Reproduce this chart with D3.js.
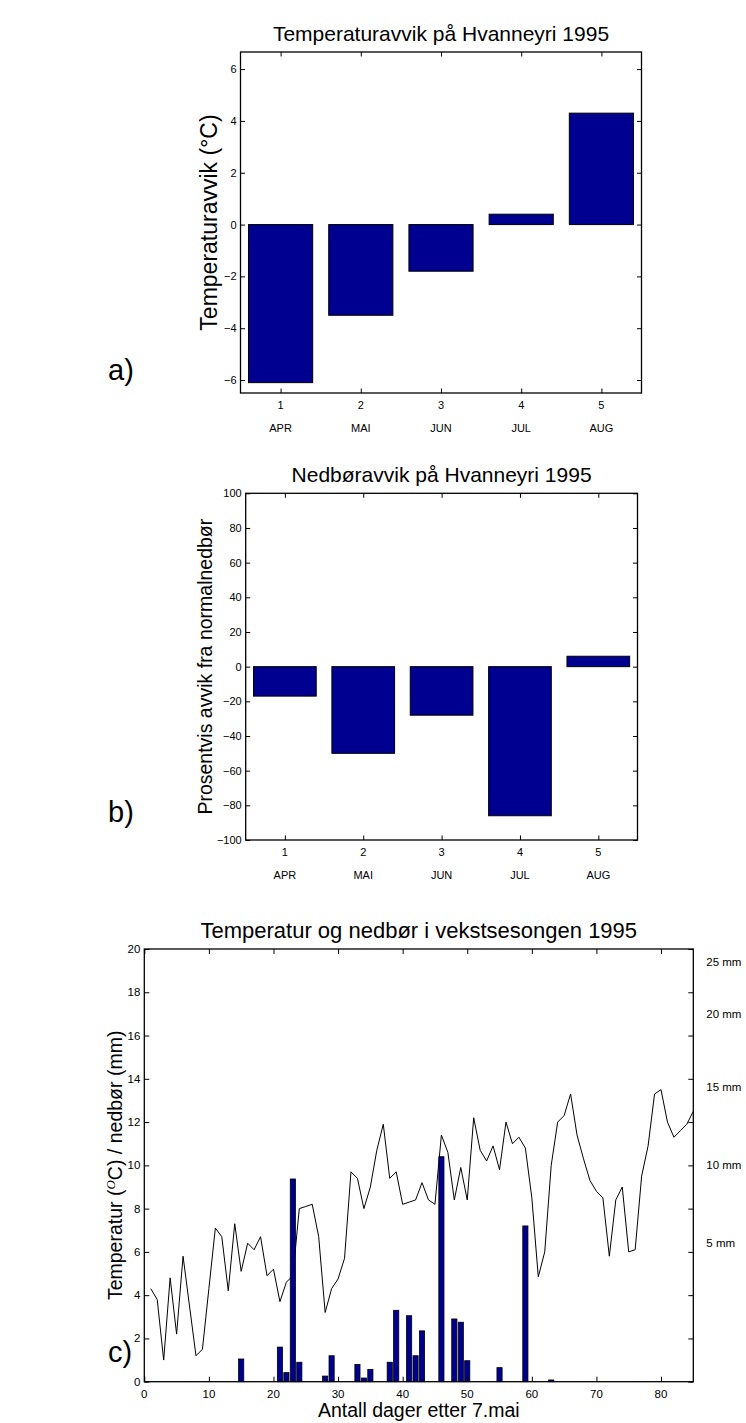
<!DOCTYPE html>
<html>
<head>
<meta charset="utf-8">
<script src="https://cdn.jsdelivr.net/npm/d3@7"></script>
<style>
  body { margin: 0; background: #fff; }
  svg text { font-family: "Liberation Sans", Arial, sans-serif; fill: #000; }
</style>
</head>
<body>
<div id="chart"></div>
<script>
// ---- data ----
const monthNo = [1, 2, 3, 4, 5]
const months = ['APR', 'MAI', 'JUN', 'JUL', 'AUG']
const tempDev = [-6.1, -3.5, -1.8, 0.4, 4.3]        // °C
const precipDev = [-17, -50, -28, -86, 6]           // %

// daily mean temperature, day 1..85 after 7 May
const dailyTemp = [
  4.3, 3.8, 1.0, 4.8, 2.2, 5.8, 3.5, 1.2, 1.5, 4.3,
  7.1, 6.7, 4.2, 7.3, 5.1, 6.4, 6.1, 6.7, 4.9, 5.2,
  3.7, 4.6, 4.9, 8.0, 8.1, 8.2, 6.7, 3.2, 4.3, 4.75,
  5.7, 9.7, 9.4, 8.0, 9.0, 10.7, 11.9, 9.4, 9.7, 8.2,
  8.3, 8.4, 9.2, 8.4, 8.2, 11.4, 10.6, 8.4, 9.9, 8.4,
  12.2, 10.7, 10.2, 10.9, 9.8, 12.0, 11.0, 11.3, 10.8, 8.5,
  4.85, 6.0, 10.0, 12.0, 12.3, 13.3, 11.4, 10.3, 9.3, 8.8,
  8.5, 5.8, 8.4, 9.0, 6.0, 6.1, 9.5, 10.9, 13.3, 13.5,
  12.0, 11.3, 11.6, 11.9, 12.5
]
const rainDays = [15, 21, 22, 23, 24, 28, 29, 33, 34, 35, 38, 39, 41, 42, 43, 46, 48, 49, 50, 55, 59, 63]
const rainAmount = [1.05, 1.6, 0.42, 9.37, 0.9, 0.26, 1.2, 0.8, 0.17, 0.57, 0.9, 3.3, 3.05, 1.2, 2.35, 10.4, 2.9, 2.75, 0.97, 0.65, 7.2, 0.08]
const mmLabels = ['25 mm', '20 mm', '15 mm', '10 mm', '5 mm']
const mmLabelAt = [19.4, 17.0, 13.6, 10.0, 6.4]

const barFill = '#000090'
const W = 746, H = 1423

const svg = d3.select('#chart').append('svg')
    .attr('width', W)
    .attr('height', H)

// MATLAB style box with inward ticks on all sides
function box (g, x, y, xTicks, yTicks, tick) {
    const [x0, x1] = x.range()
    const [y0, y1] = y.range()
    g.append('g').attr('transform', `translate(0,${y0})`)
        .call(d3.axisBottom(x).tickValues(xTicks).tickSize(-tick).tickFormat(''))
    g.append('g').attr('transform', `translate(0,${y1})`)
        .call(d3.axisTop(x).tickValues(xTicks).tickSize(-tick).tickFormat(''))
    g.append('g').attr('transform', `translate(${x0},0)`)
        .call(d3.axisLeft(y).tickValues(yTicks).tickSize(-tick).tickFormat(''))
    g.append('g').attr('transform', `translate(${x1},0)`)
        .call(d3.axisRight(y).tickValues(yTicks).tickSize(-tick).tickFormat(''))
    g.selectAll('.domain').remove()
    g.selectAll('.tick line').attr('stroke', '#000').attr('stroke-width', 1)
    g.append('rect')
        .attr('x', x0).attr('y', y1)
        .attr('width', x1 - x0).attr('height', y0 - y1)
        .attr('fill', 'none').attr('stroke', '#000').attr('stroke-width', 1.3)
}

function barPanel (cfg) {
    const g = svg.append('g')
    const x = d3.scaleLinear().domain([0.5, 5.5]).range([cfg.left, cfg.right])
    const y = d3.scaleLinear().domain(cfg.yDomain).range([cfg.bottom, cfg.top])

    g.selectAll('rect.bar')
        .data(cfg.values)
        .join('rect')
        .attr('class', 'bar')
        .attr('x', (d, i) => x(monthNo[i] - 0.4))
        .attr('width', x(1.4) - x(0.6))
        .attr('y', d => y(Math.max(0, d)))
        .attr('height', d => Math.abs(y(d) - y(0)))
        .attr('fill', barFill)
        .attr('stroke', '#000')
        .attr('stroke-width', 1)

    box(g, x, y, monthNo, cfg.yTicks, 4.5)

    // y tick labels
    g.selectAll('text.yt')
        .data(cfg.yTicks)
        .join('text')
        .attr('class', 'yt')
        .attr('x', cfg.left - 4)
        .attr('y', d => y(d) + 4)
        .attr('text-anchor', 'end')
        .attr('font-size', 11)
        .text(d => d3.format('d')(d))
    // x tick numbers and month names
    g.selectAll('text.xt')
        .data(monthNo)
        .join('text')
        .attr('class', 'xt')
        .attr('x', d => x(d))
        .attr('y', cfg.bottom + 16)
        .attr('text-anchor', 'middle')
        .attr('font-size', 11)
        .text(d => d)
    g.selectAll('text.mo')
        .data(months)
        .join('text')
        .attr('class', 'mo')
        .attr('x', (d, i) => x(monthNo[i]))
        .attr('y', cfg.bottom + 39)
        .attr('text-anchor', 'middle')
        .attr('font-size', 11)
        .text(d => d)

    g.append('text')
        .attr('x', (cfg.left + cfg.right) / 2)
        .attr('y', cfg.top - 11)
        .attr('text-anchor', 'middle')
        .attr('font-size', 21)
        .text(cfg.title)
    g.append('text')
        .attr('transform', `translate(${cfg.ylabelX},${(cfg.top + cfg.bottom) / 2}) rotate(-90)`)
        .attr('text-anchor', 'middle')
        .attr('font-size', cfg.ylabelSize)
        .text(cfg.ylabel)
    g.append('text')
        .attr('x', 108)
        .attr('y', cfg.panelY)
        .attr('font-family', '"Liberation Serif", serif')
        .attr('font-size', 29)
        .text(cfg.panel)
}

barPanel({
    values: tempDev,
    left: 240.5, right: 641.5, top: 52, bottom: 393,
    yDomain: [-6.5, 6.66],
    yTicks: [-6, -4, -2, 0, 2, 4, 6],
    title: 'Temperaturavvik på Hvanneyri 1995',
    ylabel: 'Temperaturavvik (°C)',
    ylabelX: 217, ylabelSize: 23,
    panel: 'a)', panelY: 380
})

barPanel({
    values: precipDev,
    left: 245.7, right: 637.5, top: 493.3, bottom: 840,
    yDomain: [-100, 100],
    yTicks: d3.range(-100, 101, 20),
    title: 'Nedbøravvik på Hvanneyri 1995',
    ylabel: 'Prosentvis avvik fra normalnedbør',
    ylabelX: 211.5, ylabelSize: 19.5,
    panel: 'b)', panelY: 822
})

// ---- panel c ----
{
    const left = 144.3, right = 693.3, top = 949, bottom = 1381.7
    const g = svg.append('g')
    const x = d3.scaleLinear().domain([0, 85]).range([left, right])
    const y = d3.scaleLinear().domain([0, 20]).range([bottom, top])
    const xTicks = d3.range(0, 81, 10)
    const yTicks = d3.range(0, 21, 2)

    g.append('path')
        .datum(dailyTemp)
        .attr('fill', 'none')
        .attr('stroke', '#000')
        .attr('stroke-width', 1)
        .attr('d', d3.line().x((d, i) => x(i + 1)).y(d => y(d)))

    g.selectAll('rect.rain')
        .data(rainAmount)
        .join('rect')
        .attr('class', 'rain')
        .attr('x', (d, i) => x(rainDays[i] - 0.4))
        .attr('width', x(0.8) - x(0))
        .attr('y', d => y(d))
        .attr('height', d => y(0) - y(d))
        .attr('fill', barFill)
        .attr('stroke', '#000')
        .attr('stroke-width', 0.8)

    box(g, x, y, xTicks, yTicks, 5)

    g.selectAll('text.yt')
        .data(yTicks)
        .join('text')
        .attr('class', 'yt')
        .attr('x', left - 4)
        .attr('y', d => y(d) + 4)
        .attr('text-anchor', 'end')
        .attr('font-size', 11.5)
        .text(d => d)
    g.selectAll('text.xt')
        .data(xTicks)
        .join('text')
        .attr('class', 'xt')
        .attr('x', d => x(d))
        .attr('y', bottom + 16)
        .attr('text-anchor', 'middle')
        .attr('font-size', 11.5)
        .text(d => d)
    g.selectAll('text.mm')
        .data(mmLabels)
        .join('text')
        .attr('class', 'mm')
        .attr('x', right + 13)
        .attr('y', (d, i) => y(mmLabelAt[i]) + 4)
        .attr('font-size', 11.5)
        .text(d => d)

    g.append('text')
        .attr('x', (left + right) / 2)
        .attr('y', top - 11.5)
        .attr('text-anchor', 'middle')
        .attr('font-size', 22)
        .text('Temperatur og nedbør i vekstsesongen 1995')
    g.append('text')
        .attr('x', (left + right) / 2)
        .attr('y', bottom + 35)
        .attr('text-anchor', 'middle')
        .attr('font-size', 19.5)
        .text('Antall dager etter 7.mai')

    const yl = g.append('text')
        .attr('transform', `translate(122,${(top + bottom) / 2}) rotate(-90)`)
        .attr('text-anchor', 'middle')
        .attr('font-size', 19.5)
    yl.append('tspan').text('Temperatur (')
    yl.append('tspan').attr('dy', -7).attr('font-size', 13)
        .attr('font-style', 'italic').attr('font-family', '"Liberation Serif", serif').text('O')
    yl.append('tspan').attr('dy', 7).text('C) / nedbør (mm)')

    g.append('text')
        .attr('x', 108)
        .attr('y', 1362)
        .attr('font-family', '"Liberation Serif", serif')
        .attr('font-size', 29)
        .text('c)')
}
</script>
</body>
</html>
